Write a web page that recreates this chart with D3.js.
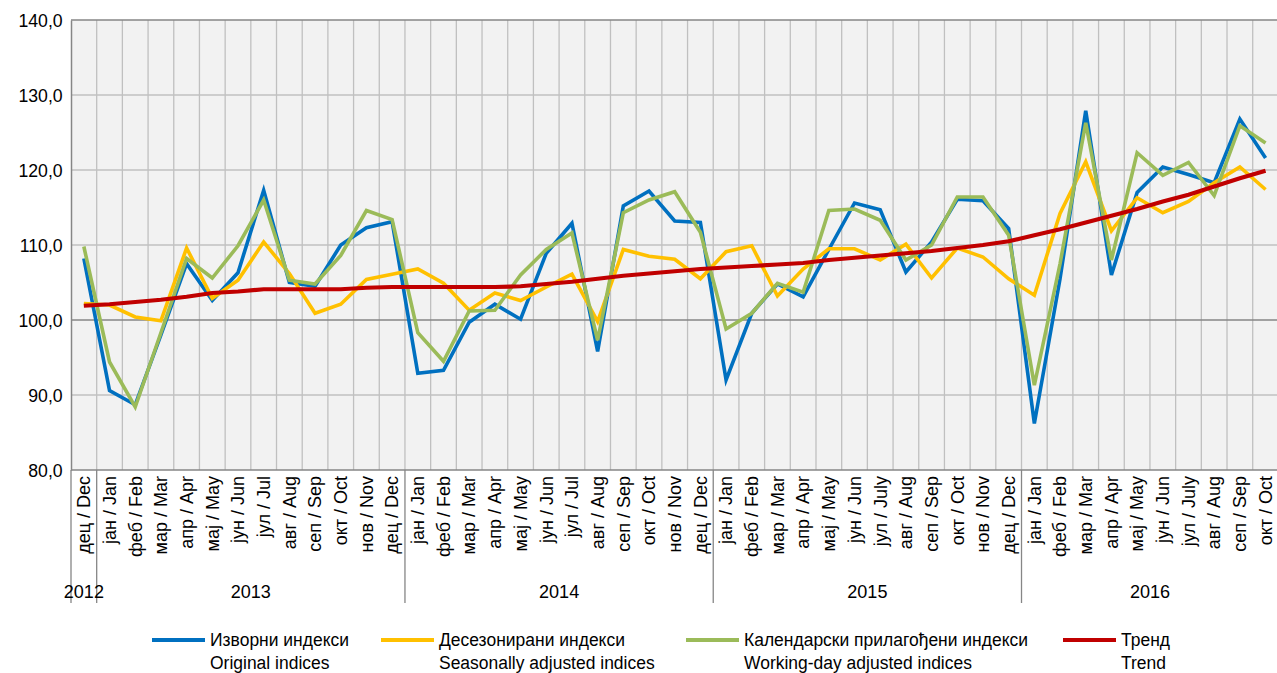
<!DOCTYPE html>
<html>
<head>
<meta charset="utf-8">
<script src="https://cdn.jsdelivr.net/npm/d3@7"></script>
<style>
html,body{margin:0;padding:0;background:#fff;}
svg{display:block;}
text{font-family:"Liberation Sans Narrow","Arial Narrow","Liberation Sans",Arial,sans-serif;fill:#000;}
</style>
</head>
<body>
<svg id="chart" width="1277" height="673"></svg>
<script>
const categories = [
  "дец / Dec",
  "јан / Jan","феб / Feb","мар / Mar","апр / Apr","мај / May","јун / Jun","јул / Jul","авг / Aug","сеп / Sep","окт / Oct","нов / Nov","дец / Dec",
  "јан / Jan","феб / Feb","мар / Mar","апр / Apr","мај / May","јун / Jun","јул / Jul","авг / Aug","сеп / Sep","окт / Oct","нов / Nov","дец / Dec",
  "јан / Jan","феб / Feb","мар / Mar","апр / Apr","мај / May","јун / Jun","јул / July","авг / Aug","сеп / Sep","окт / Oct","нов / Nov","дец / Dec",
  "јан / Jan","феб / Feb","мар / Mar","апр / Apr","мај / May","јун / Jun","јул / July","авг / Aug","сеп / Sep","окт / Oct"
];
const years = ["2012","2013","2014","2015","2016"];
const yearStarts = [0, 1, 13, 25, 37];
const yearEnds = [1, 13, 25, 37, 47];

const original = [108.2, 90.6, 88.7, 98.0, 107.5, 102.6, 106.3, 117.3, 105.0, 104.5, 110.0, 112.3, 113.1,
  92.9, 93.3, 99.7, 102.1, 100.1, 108.9, 112.9, 95.8, 115.2, 117.2, 113.2, 113.0,
  92.0, 100.9, 104.8, 103.1, 109.4, 115.6, 114.7, 106.4, 110.4, 116.1, 115.9, 112.2,
  86.2, 105.5, 127.9, 106.0, 117.0, 120.4, 119.4, 118.3, 126.8, 121.6];
const seasonal = [102.2, 102.0, 100.4, 99.9, 109.6, 102.9, 105.3, 110.4, 106.2, 100.9, 102.1, 105.4, 106.1,
  106.8, 104.9, 101.3, 103.6, 102.6, 104.4, 106.1, 99.8, 109.4, 108.5, 108.1, 105.5,
  109.1, 109.9, 103.2, 106.8, 109.5, 109.5, 108.0, 110.1, 105.6, 109.6, 108.4, 105.5,
  103.3, 114.2, 121.1, 111.9, 116.3, 114.3, 115.8, 118.3, 120.4, 117.4];
const workingDay = [109.8, 94.4, 88.4, 98.3, 108.2, 105.6, 109.9, 116.0, 105.3, 104.8, 108.6, 114.6, 113.4,
  98.3, 94.5, 101.2, 101.3, 106.0, 109.4, 111.6, 97.3, 114.3, 116.0, 117.1, 111.7,
  98.8, 100.9, 104.9, 103.7, 114.6, 114.8, 113.3, 108.0, 110.0, 116.4, 116.4, 111.3,
  91.3, 107.5, 126.3, 108.0, 122.3, 119.3, 121.0, 116.6, 125.9, 123.6];
const trend = [101.9, 102.1, 102.4, 102.7, 103.1, 103.6, 103.8, 104.1, 104.1, 104.1, 104.1, 104.3, 104.4,
  104.4, 104.4, 104.4, 104.4, 104.5, 104.8, 105.1, 105.5, 105.9, 106.2, 106.5, 106.8,
  107.0, 107.2, 107.4, 107.6, 108.0, 108.3, 108.6, 108.9, 109.2, 109.6, 110.0, 110.5,
  111.3, 112.1, 113.0, 113.9, 114.8, 115.8, 116.7, 117.8, 118.9, 119.9];
const yTicks = [80, 90, 100, 110, 120, 130, 140];

const seriesNames = [
  ["Изворни индекси", "Original indices"],
  ["Десезонирани индекси", "Seasonally adjusted indices"],
  ["Календарски прилагођени индекси", "Working-day adjusted indices"],
  ["Тренд", "Trend"]
];
const seriesColors = ["#0070C0", "#FFC000", "#9BBB59", "#C00000"];
const seriesData = [original, seasonal, workingDay, trend];

const svg = d3.select("#chart");
const pLeft = 71, pRight = 1278.4, pTop = 20, pBottom = 470;
const idx = d3.range(categories.length);
const x = d3.scaleBand().domain(idx).range([pLeft, pRight]).padding(0);
const y = d3.scaleLinear().domain([80, 140]).range([pBottom, pTop]);
const bw = x.bandwidth();

// plot background
svg.append("rect").attr("x", pLeft).attr("y", pTop).attr("width", pRight - pLeft).attr("height", pBottom - pTop).attr("fill", "#F2F2F2");

// vertical gridlines
svg.append("g").selectAll("line").data(idx.slice(1)).join("line")
  .attr("x1", d => x(d)).attr("x2", d => x(d)).attr("y1", pTop).attr("y2", pBottom)
  .attr("stroke", "#C0C0C0").attr("stroke-width", 1.3);

// horizontal gridlines
svg.append("g").selectAll("line").data(yTicks).join("line")
  .attr("x1", pLeft).attr("x2", pRight).attr("y1", d => y(d)).attr("y2", d => y(d))
  .attr("stroke", d => (d === 100 || d === 80 || d === 140) ? "#868686" : "#C0C0C0")
  .attr("stroke-width", d => (d === 100 || d === 80 || d === 140) ? 1.5 : 1.3);

// y axis
const yAxis = d3.axisLeft(y).tickValues(yTicks).tickSize(0).tickPadding(9)
  .tickFormat(d => d3.format(".1f")(d).replace(".", ","));
const gy = svg.append("g").attr("transform", `translate(${pLeft},0)`).call(yAxis);
gy.select(".domain").attr("stroke", "#868686").attr("stroke-width", 1.5);
gy.selectAll("text").attr("font-size", 19).attr("font-family", null).attr("fill", "#000")
  .attr("transform", "scale(0.93,1)");

// x axis (month labels)
const xAxis = d3.axisBottom(x).tickSize(0).tickPadding(0).tickFormat(i => categories[i]);
const gx = svg.append("g").attr("transform", `translate(0,${pBottom})`).call(xAxis);
gx.select(".domain").remove();
gx.selectAll("text")
  .attr("font-size", 18).attr("font-family", null).attr("fill", "#000")
  .attr("transform", "rotate(-90)")
  .attr("text-anchor", "end")
  .attr("x", -6).attr("y", 0).attr("dy", "0.35em");

// year separators
svg.append("g").selectAll("line").data(yearStarts).join("line")
  .attr("x1", d => x(d)).attr("x2", d => x(d)).attr("y1", pBottom).attr("y2", 603)
  .attr("stroke", "#868686").attr("stroke-width", 1.3);

// year labels
svg.append("g").selectAll("text").data(years).join("text")
  .attr("transform", (d, i) => `translate(${(x(yearStarts[i]) + x(yearEnds[i] - 1) + bw) / 2},598) scale(0.95,1)`)
  .attr("text-anchor", "middle")
  .attr("font-size", 19)
  .text(d => d);

// lines
const line = d3.line().x((d, i) => x(i) + bw / 2).y(d => y(d));
seriesData.forEach((s, k) => {
  svg.append("path").datum(s).attr("d", line).attr("fill", "none")
    .attr("stroke", seriesColors[k]).attr("stroke-width", k === 3 ? 4.2 : 3.6)
    .attr("stroke-linejoin", "miter").attr("stroke-linecap", "butt");
});

// legend
const legendX = [152, 381, 686, 1063];
const lg = svg.append("g");
seriesNames.forEach((names, k) => {
  lg.append("line").attr("x1", legendX[k]).attr("x2", legendX[k] + 53)
    .attr("y1", 640).attr("y2", 640).attr("stroke", seriesColors[k]).attr("stroke-width", 4);
  lg.append("text").attr("transform", `translate(${legendX[k] + 58},646) scale(0.92,1)`)
    .attr("font-size", 19).text(names[0]);
  lg.append("text").attr("transform", `translate(${legendX[k] + 58},669) scale(0.92,1)`)
    .attr("font-size", 19).text(names[1]);
});
</script>
</body>
</html>
